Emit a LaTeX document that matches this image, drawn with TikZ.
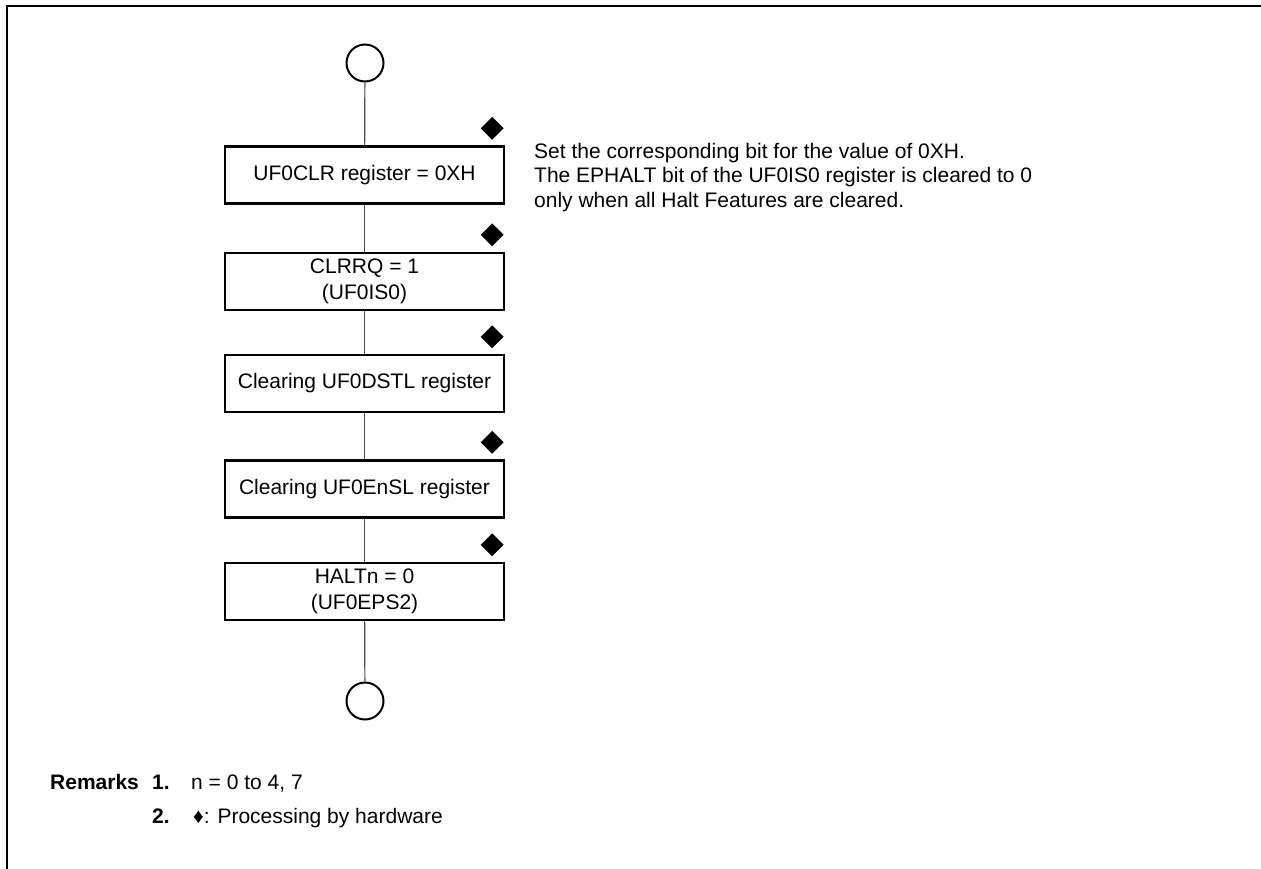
\documentclass[tikz,border=0pt]{standalone}
\usepackage{fontspec}
\setmainfont{Liberation Sans}
\usetikzlibrary{shapes.geometric}
\begin{document}
\begin{tikzpicture}[x=1pt, y=-1pt,
    stepbox/.style={draw, line width=2.4pt, minimum width=279pt, minimum height=57pt,
        inner sep=0pt, align=center, font=\fontsize{21}{26}\selectfont},
    term/.style={draw, circle, line width=2pt, minimum size=37pt, inner sep=0pt},
    hw/.style={fill, diamond, minimum size=23pt, inner sep=0pt},
    link/.style={line width=1.2pt, black!70},
    txt/.style={inner sep=0pt, font=\fontsize{21}{24.5}\selectfont}]
    \useasboundingbox (0,0) rectangle (1261,868);

    % Frame
    \draw[line width=2pt] (1265,6) -- (7,6) -- (7,872);

    % Terminals
    \node[term] (start) at (365,63) {};
    \node[term] (stop) at (365,701) {};

    % Steps
    \node[stepbox] (clr)   at (364.5,175)   {UF0CLR register = 0XH};
    \node[stepbox] (clrrq) at (364.5,281.5) {CLRRQ = 1\\(UF0IS0)};
    \node[stepbox] (dstl)  at (364.5,383.5) {Clearing UF0DSTL register};
    \node[stepbox] (ensl)  at (364.5,489)   {Clearing UF0EnSL register};
    \node[stepbox] (halt)  at (364.5,591.5) {HALTn = 0\\(UF0EPS2)};

    % Processing by hardware
    \foreach \b in {clr,clrrq,dstl,ensl,halt}
        \node[hw] (hw-\b) at ([xshift=-13pt,yshift=17pt]\b.north east) {};

    % Flow
    \draw[link] (start) -- (clr);
    \draw[link] (clr) -- (clrrq);
    \draw[link] (clrrq) -- (dstl);
    \draw[link] (dstl) -- (ensl);
    \draw[link] (ensl) -- (halt);
    \draw[link] (halt) -- (stop);

    % Note
    \node[txt, anchor=north west, align=left] (note) at (534,143)
        {Set the corresponding bit for the value of 0XH.\\
         The EPHALT bit of the UF0IS0 register is cleared to 0\\
         only when all Halt Features are cleared.};

    % Remarks
    \node[txt, anchor=base west, font=\fontsize{21}{24.5}\selectfont\bfseries] (rem) at (50,789) {Remarks};
    \node[txt, anchor=base west, font=\fontsize{21}{24.5}\selectfont\bfseries] (rem1) at (152,789) {1.};
    \node[txt, anchor=base west] (rem1t) at (191,789) {n = 0 to 4, 7};
    \node[txt, anchor=base west, font=\fontsize{21}{24.5}\selectfont\bfseries] (rem2) at (152,823) {2.};
    \node[txt, anchor=base west] (rem2t) at (193,823) {♦: Processing by hardware};
\end{tikzpicture}
\end{document}
